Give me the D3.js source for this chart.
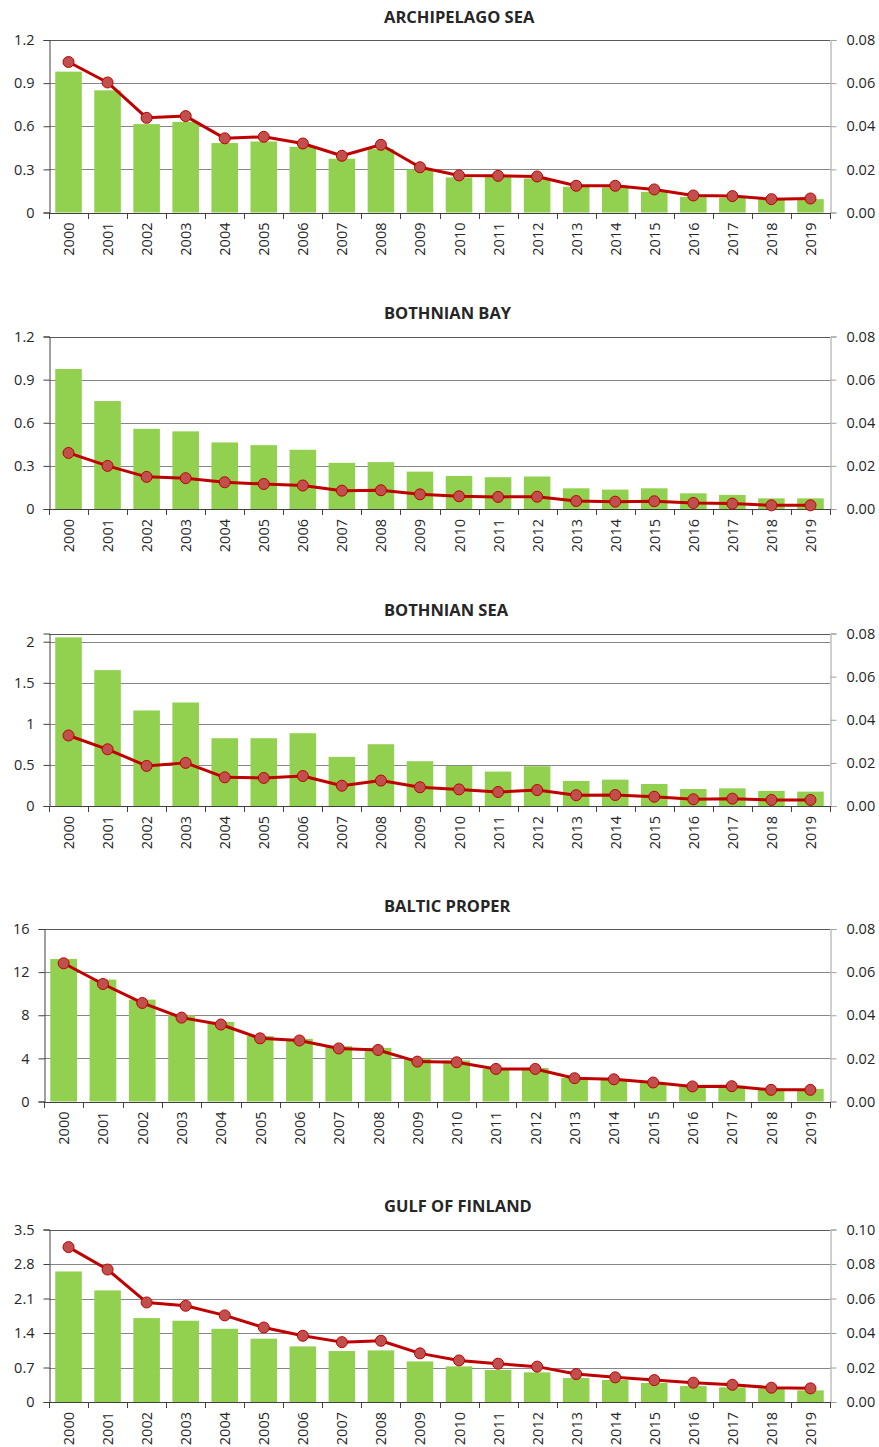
<!DOCTYPE html>
<html>
<head>
<meta charset="utf-8">
<script src="https://cdn.jsdelivr.net/npm/d3@7/dist/d3.min.js"></script>
<style>
  html, body { margin: 0; padding: 0; background: #fff; }
  svg text { font-family: "Open Sans", "Noto Sans", sans-serif; fill: #262626; }
</style>
</head>
<body>
<svg id="chart" width="879" height="1447"></svg>
<script>
// Years on the category axis
const years = d3.range(2000, 2020).map(String);

// Bars (left axis) and line (right axis) for each sea area
const archipelagoBars = [0.98, 0.85, 0.615, 0.63, 0.483, 0.494, 0.457, 0.374, 0.441, 0.30,
                         0.244, 0.255, 0.237, 0.179, 0.175, 0.144, 0.109, 0.102, 0.095, 0.093];
const archipelagoLine = [0.0698, 0.0603, 0.0439, 0.0447, 0.0344, 0.0351, 0.0320, 0.0263, 0.0314, 0.0210,
                         0.0172, 0.0170, 0.0167, 0.0124, 0.0124, 0.0107, 0.0079, 0.0076, 0.0062, 0.0065];

const bothnianBayBars = [0.974, 0.751, 0.558, 0.540, 0.463, 0.444, 0.412, 0.321, 0.326, 0.260,
                         0.230, 0.221, 0.226, 0.144, 0.135, 0.144, 0.109, 0.098, 0.074, 0.074];
const bothnianBayLine = [0.0260, 0.0200, 0.0149, 0.0143, 0.0124, 0.0116, 0.0109, 0.0085, 0.0087, 0.0068,
                         0.0059, 0.0056, 0.0057, 0.0037, 0.0034, 0.0036, 0.0028, 0.0025, 0.0017, 0.0017];

const bothnianSeaBars = [2.053, 1.654, 1.163, 1.260, 0.825, 0.825, 0.886, 0.598, 0.752, 0.545,
                         0.488, 0.419, 0.484, 0.305, 0.321, 0.268, 0.207, 0.215, 0.183, 0.175];
const bothnianSeaLine = [0.0327, 0.0263, 0.0186, 0.0200, 0.0133, 0.0130, 0.0139, 0.0094, 0.0118, 0.0087,
                         0.0077, 0.0065, 0.0074, 0.0050, 0.0051, 0.0043, 0.0031, 0.0034, 0.0028, 0.0028];

const balticProperBars = [13.22, 11.31, 9.45, 8.0, 7.38, 6.08, 5.81, 5.13, 4.97, 3.98,
                          3.80, 3.03, 3.12, 2.19, 2.10, 1.73, 1.42, 1.48, 1.20, 1.17];
const balticProperLine = [0.0641, 0.0545, 0.0457, 0.0389, 0.0357, 0.0293, 0.0283, 0.0246, 0.0239, 0.0185,
                          0.0182, 0.0151, 0.0151, 0.0108, 0.0103, 0.0088, 0.0070, 0.0071, 0.0054, 0.0054];

const gulfOfFinlandBars = [2.649, 2.264, 1.703, 1.649, 1.486, 1.284, 1.128, 1.034, 1.047, 0.824,
                           0.723, 0.649, 0.601, 0.486, 0.446, 0.385, 0.324, 0.297, 0.270, 0.236];
const gulfOfFinlandLine = [0.0898, 0.0768, 0.0577, 0.0558, 0.0502, 0.0432, 0.0384, 0.0347, 0.0355, 0.0282,
                           0.0241, 0.0222, 0.0205, 0.0162, 0.0143, 0.0127, 0.0112, 0.0100, 0.0083, 0.0079];

// Titles
const panelTitles = ["ARCHIPELAGO SEA", "BOTHNIAN BAY", "BOTHNIAN SEA", "BALTIC PROPER", "GULF OF FINLAND"];

// Axis ticks
const leftTicks = [
  [0, 0.3, 0.6, 0.9, 1.2],
  [0, 0.3, 0.6, 0.9, 1.2],
  [0, 0.5, 1, 1.5, 2],
  [0, 4, 8, 12, 16],
  [0, 0.7, 1.4, 2.1, 2.8, 3.5]
];
const leftMax = [1.2, 1.2, 2.1, 16, 3.5];
const rightTicks = [
  [0, 0.02, 0.04, 0.06, 0.08],
  [0, 0.02, 0.04, 0.06, 0.08],
  [0, 0.02, 0.04, 0.06, 0.08],
  [0, 0.02, 0.04, 0.06, 0.08],
  [0, 0.02, 0.04, 0.06, 0.08, 0.10]
];
const rightMax = [0.08, 0.08, 0.08, 0.08, 0.10];

const barSeries = [archipelagoBars, bothnianBayBars, bothnianSeaBars, balticProperBars, gulfOfFinlandBars];
const lineSeries = [archipelagoLine, bothnianBayLine, bothnianSeaLine, balticProperLine, gulfOfFinlandLine];

// Panel geometry
const plotTop = [40, 336.5, 633.5, 929, 1229.5];
const plotHeight = 172.5;
const plotLeft = [49, 49, 49, 44, 49];
const plotRight = 830;
const titleY = [23, 319, 616, 912, 1212];
const titleX = 384;
const tickFont = 14.5;

const svg = d3.select("#chart");

panelTitles.forEach((title, i) => {
  const top = plotTop[i];
  const bottom = top + plotHeight;
  const left = plotLeft[i];

  const x = d3.scaleBand().domain(years).range([left, plotRight]).paddingInner(0.32).paddingOuter(0.16);
  const yL = d3.scaleLinear().domain([0, leftMax[i]]).range([bottom, top]);
  const yR = d3.scaleLinear().domain([0, rightMax[i]]).range([bottom, top]);

  const g = svg.append("g");

  // title
  g.append("text")
    .attr("x", titleX).attr("y", titleY[i])
    .attr("font-size", 16.5).attr("font-weight", 700)
    .text(title);

  // gridlines
  g.append("g").selectAll("line")
    .data(leftTicks[i].filter(t => t > 0))
    .join("line")
    .attr("x1", left).attr("x2", plotRight)
    .attr("y1", d => Math.round(yL(d)) + 0.5).attr("y2", d => Math.round(yL(d)) + 0.5)
    .attr("stroke", "#868686").attr("stroke-width", 1);

  // plot area top edge
  g.append("line")
    .attr("x1", left).attr("x2", plotRight)
    .attr("y1", Math.round(top) + 0.5).attr("y2", Math.round(top) + 0.5)
    .attr("stroke", "#595959");

  // bars
  g.append("g").selectAll("rect")
    .data(barSeries[i])
    .join("rect")
    .attr("x", (d, j) => x(years[j]))
    .attr("width", x.bandwidth())
    .attr("y", d => yL(d))
    .attr("height", d => bottom - yL(d))
    .attr("fill", "#92D050");

  // left axis
  const axL = d3.axisLeft(yL).tickValues(leftTicks[i]).tickSize(6).tickPadding(9)
    .tickFormat(d => String(+d.toFixed(2)));
  const gL = g.append("g").attr("transform", `translate(${Math.round(left) + 0.5},0)`).call(axL);
  gL.select(".domain").attr("stroke", "#404040");
  gL.selectAll(".tick line").attr("stroke", "#404040");
  gL.selectAll(".tick text").attr("font-size", tickFont).attr("font-family", null).attr("fill", "#262626");

  // right axis
  const axR = d3.axisRight(yR).tickValues(rightTicks[i]).tickSize(6).tickPadding(10)
    .tickFormat(d3.format(".2f"));
  const gR = g.append("g").attr("transform", `translate(${plotRight + 0.5},0)`).call(axR);
  gR.select(".domain").attr("stroke", "#a0a0a0");
  gR.selectAll(".tick line").attr("stroke", "#a0a0a0");
  gR.selectAll(".tick text").attr("font-size", tickFont).attr("font-family", null).attr("fill", "#262626");

  // category axis: ticks between categories, rotated year labels
  const bounds = d3.range(years.length + 1).map(k => left + k * (plotRight - left) / years.length);
  g.append("line")
    .attr("x1", left).attr("x2", plotRight)
    .attr("y1", Math.round(bottom) + 0.5).attr("y2", Math.round(bottom) + 0.5)
    .attr("stroke", "#404040");
  g.append("g").selectAll("line")
    .data(bounds)
    .join("line")
    .attr("x1", d => Math.round(d) + 0.5).attr("x2", d => Math.round(d) + 0.5)
    .attr("y1", Math.round(bottom)).attr("y2", Math.round(bottom) + 6)
    .attr("stroke", "#404040");
  g.append("g").selectAll("text")
    .data(years)
    .join("text")
    .attr("transform", d => `translate(${x(d) + x.bandwidth() / 2 + 5.5},${bottom + 10}) rotate(-90)`)
    .attr("text-anchor", "end")
    .attr("font-size", tickFont)
    .text(d => d);

  // line series on the right axis
  const pts = lineSeries[i].map((v, j) => [x(years[j]) + x.bandwidth() / 2, yR(v)]);
  g.append("path")
    .attr("d", d3.line()(pts))
    .attr("fill", "none")
    .attr("stroke", "#C00000")
    .attr("stroke-width", 3)
    .attr("stroke-linejoin", "round");
  g.append("g").selectAll("circle")
    .data(pts)
    .join("circle")
    .attr("cx", d => d[0]).attr("cy", d => d[1])
    .attr("r", 5.5)
    .attr("fill", "#C0504D")
    .attr("stroke", "#C00000")
    .attr("stroke-width", 1);
});
</script>
</body>
</html>
